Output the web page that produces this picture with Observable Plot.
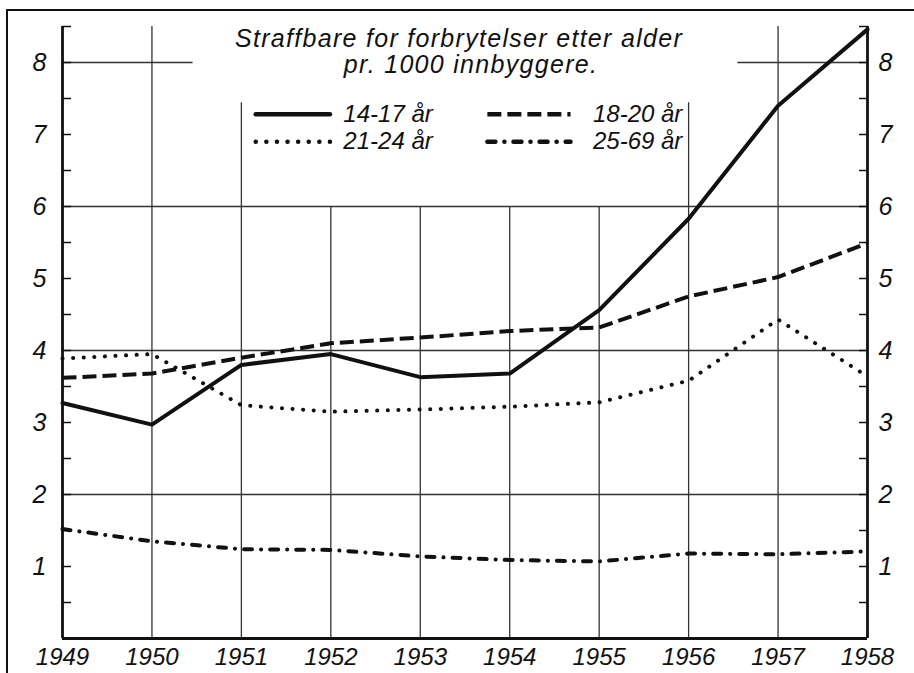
<!DOCTYPE html>
<html><head><meta charset="utf-8">
<script src="https://cdn.jsdelivr.net/npm/d3@7"></script>
<script src="https://cdn.jsdelivr.net/npm/@observablehq/plot@0.6"></script>
<style>
html,body{margin:0;padding:0;background:#fff;}
#wrap{position:relative;width:914px;height:673px;overflow:hidden;background:#fff;}
#border{position:absolute;left:6px;top:9px;width:1000px;height:700px;border-left:2.5px solid #111;border-top:2.5px solid #111;}
#chart{position:absolute;left:0;top:0;}
</style></head><body>
<div id="wrap"><div id="border"></div><div id="chart"></div></div>
<script>
// ---- data ----
const years = [1949, 1950, 1951, 1952, 1953, 1954, 1955, 1956, 1957, 1958];
const age14_17 = [3.27, 2.97, 3.80, 3.95, 3.63, 3.68, 4.56, 5.83, 7.40, 8.46];
const age18_20 = [3.62, 3.68, 3.90, 4.10, 4.18, 4.27, 4.32, 4.75, 5.02, 5.49];
const age21_24 = [3.89, 3.95, 3.24, 3.15, 3.18, 3.22, 3.28, 3.58, 4.43, 3.64];
const age25_69 = [1.52, 1.35, 1.24, 1.23, 1.14, 1.09, 1.07, 1.18, 1.17, 1.21];
const seriesNames = ["14-17 år", "18-20 år", "21-24 år", "25-69 år"];
const yTickLabels = [1, 2, 3, 4, 5, 6, 7, 8];
const yMinorTicks = [0.5, 1, 1.5, 2, 2.5, 3, 3.5, 4, 4.5, 5, 5.5, 6, 6.5, 7, 7.5, 8, 8.5];
const titleLines = ["Straffbare for forbrytelser etter alder", "pr. 1000 innbyggere."];

// ---- styles per series ----
const seriesValues = [age14_17, age18_20, age21_24, age25_69];
const dash = ["none", "14 6", "0.1 10.5", "8 9 0.1 9"];
const caps = ["round", "butt", "round", "round"];

const rows = [];
seriesNames.forEach((name, i) => years.forEach((yr, j) => rows.push({series: name, year: yr, value: seriesValues[i][j]})));

const ink = "#111";
const grid = "#333";

// legend layout (in data coordinates of the chart)
const legend = [
  {name: seriesNames[0], x1: 1951.16, x2: 1951.99, y: 7.28, tx: 1952.14, anchor: "start", i: 0},
  {name: seriesNames[2], x1: 1951.16, x2: 1951.99, y: 6.90, tx: 1952.14, anchor: "start", i: 2},
  {name: seriesNames[1], x1: 1953.75, x2: 1954.68, y: 7.28, tx: 1955.93, anchor: "end", i: 1},
  {name: seriesNames[3], x1: 1953.75, x2: 1954.68, y: 6.90, tx: 1955.93, anchor: "end", i: 3}
];

const lineMarks = seriesNames.map((name, i) =>
  Plot.line(rows.filter(d => d.series === name), {
    x: "year", y: "value", stroke: ink, strokeWidth: 4,
    strokeDasharray: dash[i], strokeLinecap: caps[i], strokeLinejoin: "round"
  }));

const legendMarks = legend.map(l => [
  Plot.link([l], {x1: "x1", x2: "x2", y1: "y", y2: "y", stroke: ink, strokeWidth: 4.5,
    strokeDasharray: dash[l.i], strokeLinecap: caps[l.i]}),
  Plot.text([l], {x: "tx", y: "y", text: "name", textAnchor: l.anchor, fontSize: 24, fill: ink, fontStyle: "italic"})
]);

const chart = Plot.plot({
  width: 914, height: 673,
  marginLeft: 62, marginRight: 47, marginTop: 26, marginBottom: 35,
  x: {domain: [1949, 1958]},
  y: {domain: [0, 8.5]},
  style: {fontFamily: "Liberation Sans, Arial, sans-serif", fontStyle: "italic", background: "transparent", color: ink},
  marks: [
    // horizontal grid
    Plot.ruleY([2, 4, 6], {x1: 1949, x2: 1958, stroke: grid, strokeWidth: 1.3}),
    Plot.ruleY([8], {x1: 1949, x2: 1950.46, stroke: grid, strokeWidth: 1.3}),
    Plot.ruleY([8], {x1: 1956.55, x2: 1958, stroke: grid, strokeWidth: 1.3}),
    // vertical grid
    Plot.ruleX([1950, 1957], {y1: 0, y2: 8.5, stroke: grid, strokeWidth: 1.3}),
    Plot.ruleX([1951, 1956], {y1: 0, y2: 7.44, stroke: grid, strokeWidth: 1.3}),
    Plot.ruleX([1952, 1953, 1954, 1955], {y1: 0, y2: 6, stroke: grid, strokeWidth: 1.3}),
    // axes lines
    Plot.ruleX([1949, 1958], {y1: 0, y2: 8.5, stroke: ink, strokeWidth: 2.8}),
    Plot.ruleY([0], {x1: 1949, x2: 1958, stroke: ink, strokeWidth: 2.8}),
    // ticks (inward)
    Plot.axisY({anchor: "left", ticks: yMinorTicks, tickSize: -9, tickFormat: () => "", strokeWidth: 1.5, label: null}),
    Plot.axisY({anchor: "right", ticks: yMinorTicks, tickSize: -9, tickFormat: () => "", strokeWidth: 1.5, label: null}),
    // tick labels
    Plot.axisY({anchor: "left", ticks: yTickLabels, tickSize: 0, tickPadding: 16, fontSize: 25, fontStyle: "italic", tickFormat: d => String(d), label: null}),
    Plot.axisY({anchor: "right", ticks: yTickLabels, tickSize: 0, tickPadding: 11, fontSize: 25, fontStyle: "italic", tickFormat: d => String(d), label: null}),
    Plot.axisX({anchor: "bottom", ticks: years, tickSize: 0, tickPadding: 9, fontSize: 24, fontStyle: "italic", tickFormat: d => String(d), label: null}),
    // title
    Plot.text([titleLines[0]], {frameAnchor: "top", dx: -6, dy: 12, fontSize: 25, lineAnchor: "middle", fill: ink}),
    Plot.text([titleLines[1]], {frameAnchor: "top", dx: 6, dy: 38, fontSize: 25, lineAnchor: "middle", fill: ink}),
    // legend
    ...legendMarks.flat(),
    // series
    ...lineMarks
  ]
});
d3.select(chart).selectAll("text")
  .filter(function() { return titleLines.includes(this.textContent); })
  .style("letter-spacing", "1.3px");
document.getElementById("chart").appendChild(chart);
</script>
</body></html>
